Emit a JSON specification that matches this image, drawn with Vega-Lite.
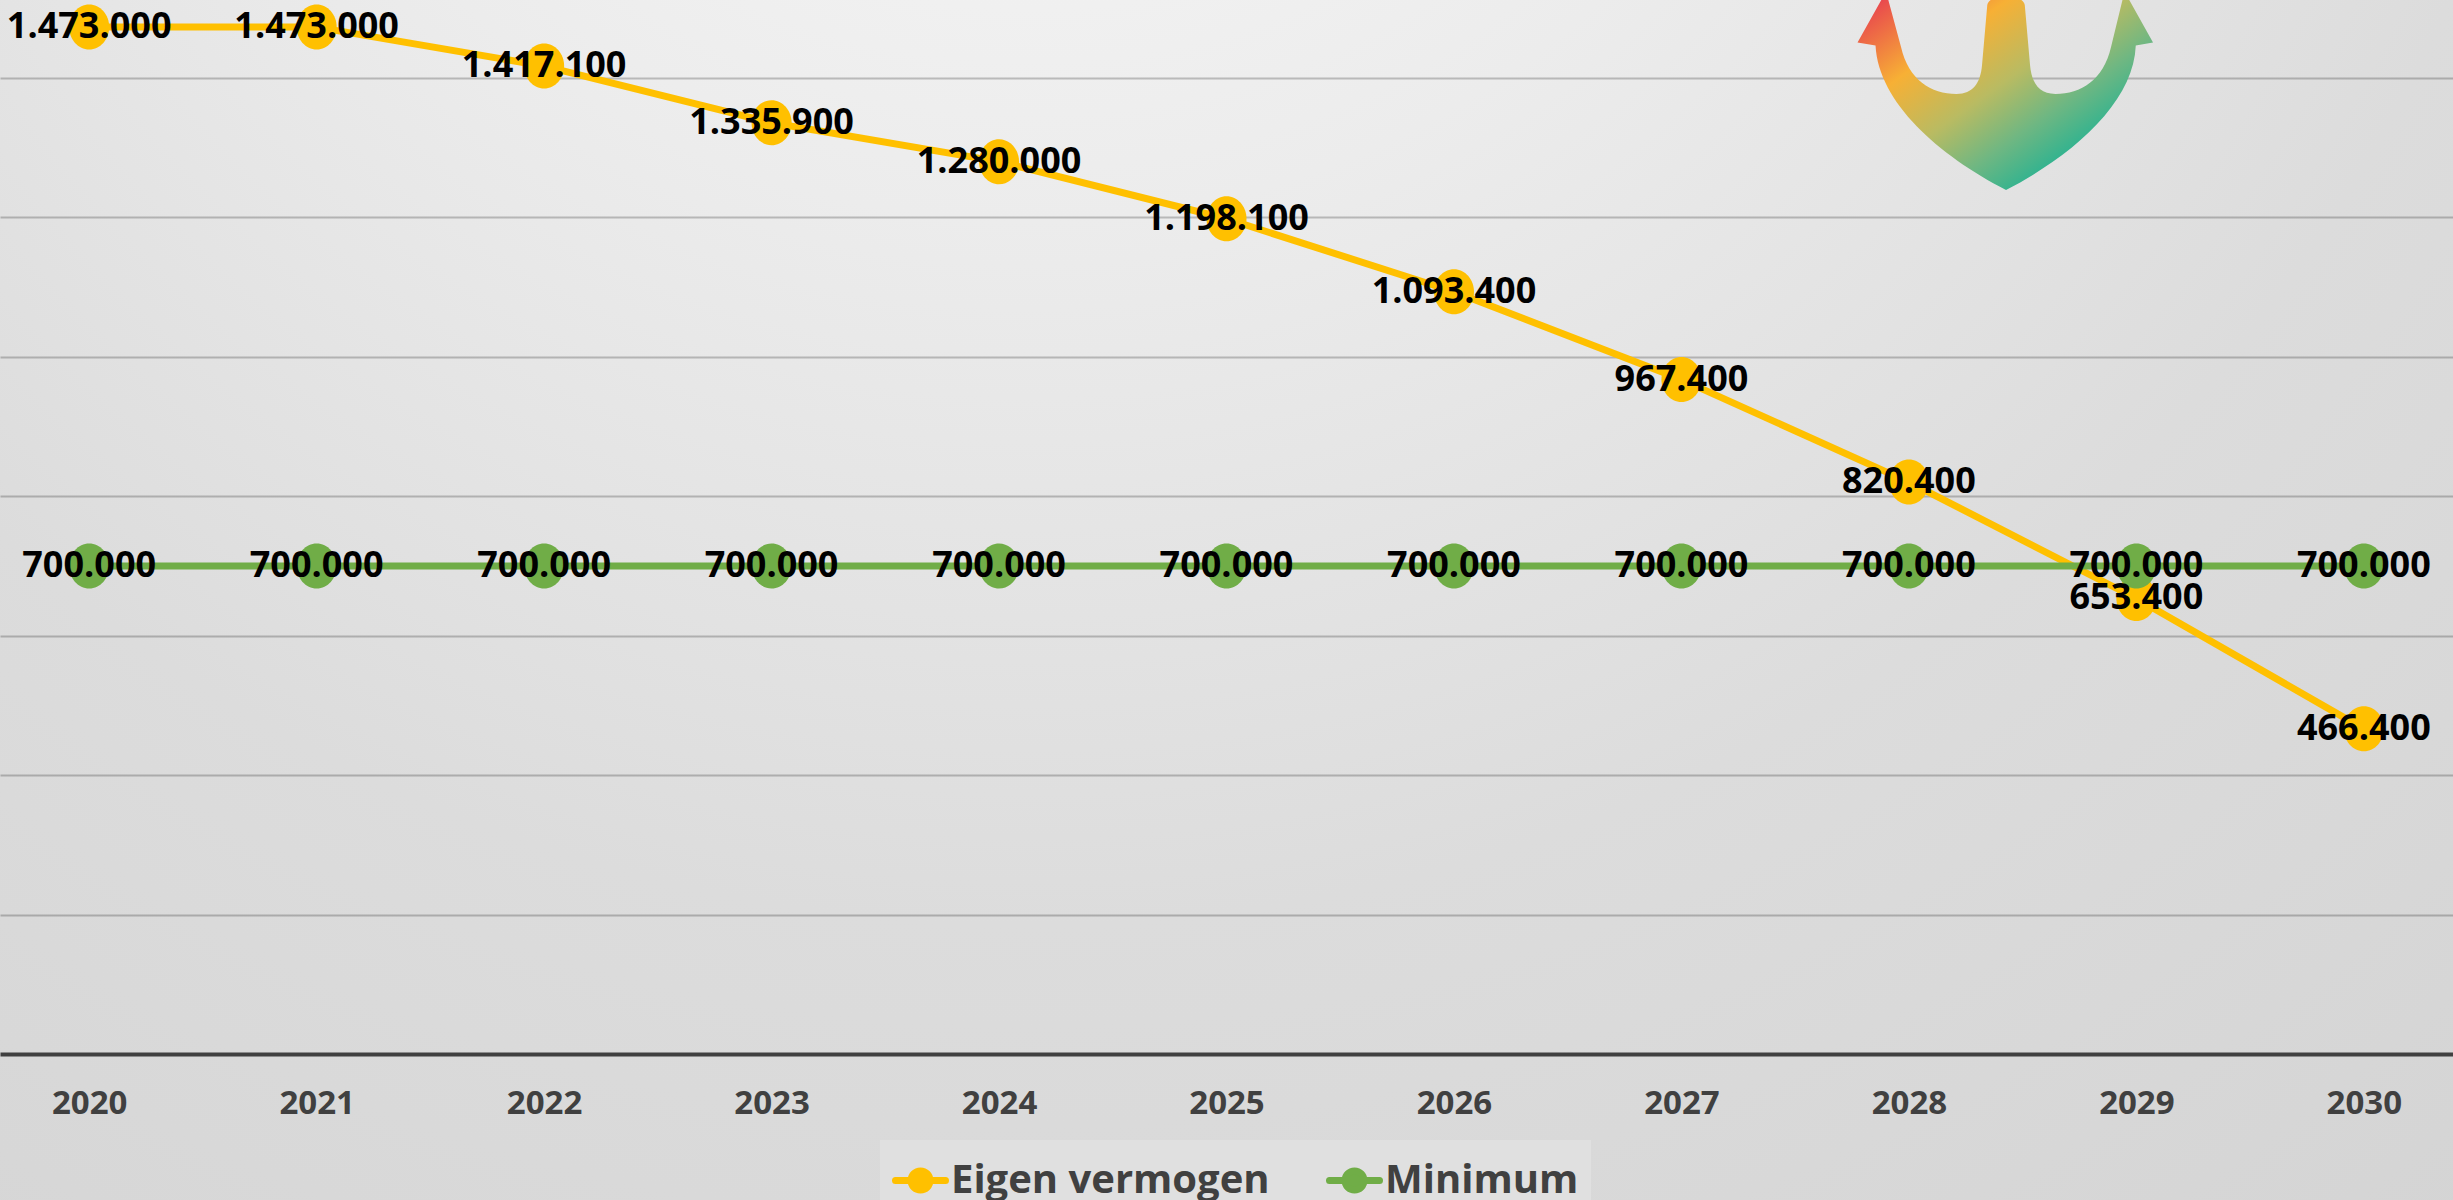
{
  "$schema": "https://vega.github.io/schema/vega-lite/v6.json",
  "width": 2453,
  "height": 1200,
  "autosize": {"type": "none"},
  "padding": 0,
  "background": "#d0d0d0",
  "view": {
    "stroke": null,
    "fill": {
      "gradient": "radial",
      "x1": 0.42, "y1": 0, "r1": 0,
      "x2": 0.42, "y2": 0, "r2": 1.15,
      "stops": [
        {"offset": 0, "color": "#fcfcfc"},
        {"offset": 0.3, "color": "#ececec"},
        {"offset": 0.55, "color": "#dcdcdc"},
        {"offset": 0.87, "color": "#d3d3d3"},
        {"offset": 1, "color": "#c6c6c6"}
      ]
    }
  },
  "config": {
    "locale": {"number": {"decimal": ",", "thousands": ".", "grouping": [3], "currency": ["€ ", ""]}}
  },
  "data": {
    "values": [
      {"year": 2020, "series": "Eigen vermogen", "value": 1473000},
      {"year": 2021, "series": "Eigen vermogen", "value": 1473000},
      {"year": 2022, "series": "Eigen vermogen", "value": 1417100},
      {"year": 2023, "series": "Eigen vermogen", "value": 1335900},
      {"year": 2024, "series": "Eigen vermogen", "value": 1280000},
      {"year": 2025, "series": "Eigen vermogen", "value": 1198100},
      {"year": 2026, "series": "Eigen vermogen", "value": 1093400},
      {"year": 2027, "series": "Eigen vermogen", "value": 967400},
      {"year": 2028, "series": "Eigen vermogen", "value": 820400},
      {"year": 2029, "series": "Eigen vermogen", "value": 653400},
      {"year": 2030, "series": "Eigen vermogen", "value": 466400},
      {"year": 2020, "series": "Minimum", "value": 700000},
      {"year": 2021, "series": "Minimum", "value": 700000},
      {"year": 2022, "series": "Minimum", "value": 700000},
      {"year": 2023, "series": "Minimum", "value": 700000},
      {"year": 2024, "series": "Minimum", "value": 700000},
      {"year": 2025, "series": "Minimum", "value": 700000},
      {"year": 2026, "series": "Minimum", "value": 700000},
      {"year": 2027, "series": "Minimum", "value": 700000},
      {"year": 2028, "series": "Minimum", "value": 700000},
      {"year": 2029, "series": "Minimum", "value": 700000},
      {"year": 2030, "series": "Minimum", "value": 700000}
    ]
  },
  "layer": [
    {
      "mark": {"type": "line", "strokeWidth": 7, "strokeJoin": "round"},
      "encoding": {
        "x": {
          "field": "year", "type": "quantitative",
          "scale": {"domain": [2019.608, 2030.392], "nice": false, "zero": false},
          "axis": {
            "orient": "bottom", "offset": -146, "title": null,
            "values": [2020, 2021, 2022, 2023, 2024, 2025, 2026, 2027, 2028, 2029, 2030],
            "format": "d", "grid": false, "ticks": false,
            "domainColor": "#404040", "domainWidth": 4,
            "labelFont": "Open Sans", "labelFontWeight": "bold", "labelFontSize": 33,
            "labelColor": "#404040", "labelPadding": 33, "labelFlush": false, "labelOverlap": false
          }
        },
        "y": {
          "field": "value", "type": "quantitative",
          "scale": {"domain": [-209430, 1511900], "nice": false, "zero": false},
          "axis": {
            "title": null, "domain": false, "ticks": false, "labels": false,
            "grid": true, "gridColor": "#000000", "gridOpacity": 0.22, "gridWidth": 2,
            "values": [200000, 400000, 600000, 800000, 1000000, 1200000, 1400000]
          }
        },
        "color": {
          "field": "series", "type": "nominal",
          "scale": {"domain": ["Eigen vermogen", "Minimum"], "range": ["#FFC000", "#70AD47"]},
          "legend": {
            "title": null, "orient": "none", "direction": "horizontal",
            "legendX": 880, "legendY": 1140, "padding": 12,
            "fillColor": "#e0e0e0",
            "symbolType": "M -1 0 L 1 0 M 0.38 0 A 0.38 0.38 0 1 1 -0.38 0 A 0.38 0.38 0 1 1 0.38 0 Z",
            "symbolSize": 2500, "symbolStrokeWidth": 7,
            "labelFont": "Open Sans", "labelFontWeight": "bold", "labelFontSize": 40,
            "labelColor": "#404040", "labelOffset": 2, "columnPadding": 45, "labelLimit": 600,
            "encode": {
              "symbols": {
                "update": {
                  "fill": {"signal": "scale('color', datum.value)"},
                  "stroke": {"signal": "scale('color', datum.value)"},
                  "strokeCap": {"value": "round"},
                  "opacity": {"value": 1},
                  "fillOpacity": {"value": 1}
                }
              }
            }
          }
        }
      }
    },
    {
      "mark": {
        "type": "point", "filled": true, "opacity": 1, "size": 2025, "strokeWidth": 0,
        "shape": "M 0.89 0 A 0.89 1 0 1 1 -0.89 0 A 0.89 1 0 1 1 0.89 0 Z"
      },
      "encoding": {
        "x": {"field": "year", "type": "quantitative", "axis": null},
        "y": {"field": "value", "type": "quantitative", "axis": null},
        "color": {"field": "series", "type": "nominal", "legend": null}
      }
    },
    {
      "mark": {
        "type": "text", "font": "Open Sans", "fontWeight": "bold", "fontSize": 36,
        "align": "center", "baseline": "middle", "color": "#000000"
      },
      "encoding": {
        "x": {"field": "year", "type": "quantitative", "axis": null},
        "y": {"field": "value", "type": "quantitative", "axis": null},
        "text": {"field": "value", "type": "quantitative", "format": ",.0f"}
      }
    },
    {
      "data": {"values": [{"logo": "anchor"}]},
      "mark": {
        "type": "point",
        "filled": true,
        "opacity": 1,
        "size": 90000,
        "strokeWidth": 0,
        "shape": "M -0.8 -0.69 L -0.99 -0.35 L -0.87 -0.33 C -0.85 0.05 -0.45 0.40 0 0.633 C 0.45 0.40 0.85 0.05 0.865 -0.33 L 0.98 -0.35 L 0.79 -0.69 L 0.70 -0.32 C 0.65 -0.10 0.50 -0.007 0.33 -0.007 C 0.22 -0.007 0.17 -0.08 0.16 -0.2 L 0.125 -0.6 C 0.11 -0.68 -0.11 -0.68 -0.125 -0.6 L -0.16 -0.2 C -0.17 -0.08 -0.22 -0.007 -0.33 -0.007 C -0.50 -0.007 -0.65 -0.10 -0.70 -0.32 Z"
      },
      "encoding": {
        "x": {"datum": 2028.427, "type": "quantitative", "axis": null},
        "y": {"datum": 1375600, "type": "quantitative", "axis": null},
        "color": {
          "value": {
            "gradient": "linear",
            "x1": 0.05, "y1": 0.05, "x2": 0.85, "y2": 0.8,
            "stops": [
              {"offset": 0, "color": "#e8434f"},
              {"offset": 0.3, "color": "#f7b035"},
              {"offset": 0.55, "color": "#b9bb62"},
              {"offset": 0.75, "color": "#6fb782"},
              {"offset": 1, "color": "#14b196"}
            ]
          }
        }
      }
    }
  ],
  "resolve": {"axis": {"x": "independent", "y": "independent"}}
}
